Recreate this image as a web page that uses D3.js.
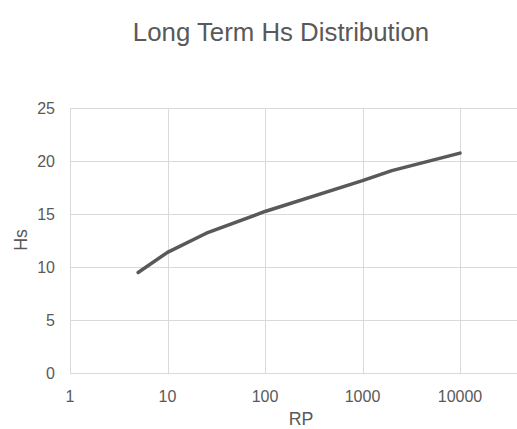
<!DOCTYPE html>
<html>
<head>
<meta charset="utf-8">
<script src="https://cdn.jsdelivr.net/npm/d3@7"></script>
<style>
  body { margin: 0; background: #fff; }
  text { font-family: "Liberation Sans", Arial, sans-serif; fill: #595959; }
</style>
</head>
<body>
<script>
// values
var rp = [5, 10, 25, 100, 1000, 2000, 10000];
var hs = [9.5, 11.4, 13.2, 15.25, 18.15, 19.1, 20.75];
var xTicks = [1, 10, 100, 1000, 10000, 100000];
var yTicks = [0, 5, 10, 15, 20, 25];

var width = 517, height = 429;
var plotLeft = 70, plotTop = 108, plotBottom = 373.3, plotRight = 557.5;

var svg = d3.select("body").append("svg")
    .attr("width", width)
    .attr("height", height);

var x = d3.scaleLog().domain([1, 100000]).range([plotLeft, plotRight]);
var y = d3.scaleLinear().domain([0, 25]).range([plotBottom, plotTop]);

// gridlines
svg.append("g")
    .selectAll("line")
    .data(yTicks)
    .enter().append("line")
    .attr("x1", plotLeft).attr("x2", plotRight)
    .attr("y1", function(d) { return Math.round(y(d)) + 0.5; })
    .attr("y2", function(d) { return Math.round(y(d)) + 0.5; })
    .attr("stroke", "#d9d9d9")
    .attr("stroke-width", 1);

svg.append("g")
    .selectAll("line")
    .data(xTicks)
    .enter().append("line")
    .attr("y1", plotTop).attr("y2", plotBottom)
    .attr("x1", function(d) { return Math.round(x(d)) + 0.5; })
    .attr("x2", function(d) { return Math.round(x(d)) + 0.5; })
    .attr("stroke", "#d9d9d9")
    .attr("stroke-width", 1);

// tick labels
svg.append("g")
    .selectAll("text")
    .data(yTicks)
    .enter().append("text")
    .attr("x", 55)
    .attr("y", function(d) { return y(d) + 5.5; })
    .attr("text-anchor", "end")
    .style("font-size", "16px")
    .text(function(d) { return d; });

svg.append("g")
    .selectAll("text")
    .data(xTicks.slice(0, 5))
    .enter().append("text")
    .attr("x", function(d) { return x(d); })
    .attr("y", 401.5)
    .attr("text-anchor", "middle")
    .style("font-size", "16px")
    .text(function(d) { return d; });

// axis titles
svg.append("text")
    .attr("x", 301)
    .attr("y", 424.5)
    .attr("text-anchor", "middle")
    .style("font-size", "17.8px")
    .text("RP");

svg.append("text")
    .attr("transform", "translate(26.5,240) rotate(-90)")
    .attr("text-anchor", "middle")
    .style("font-size", "17.8px")
    .text("Hs");

// title
svg.append("text")
    .attr("x", 281)
    .attr("y", 41)
    .attr("text-anchor", "middle")
    .style("font-size", "25.8px")
    .text("Long Term Hs Distribution");

// series
var pts = rp.map(function(d, i) { return [d, hs[i]]; });
var line = d3.line()
    .x(function(d) { return x(d[0]); })
    .y(function(d) { return y(d[1]); });

svg.append("path")
    .datum(pts)
    .attr("d", line)
    .attr("fill", "none")
    .attr("stroke", "#595959")
    .attr("stroke-width", 3.5)
    .attr("stroke-linejoin", "round")
    .attr("stroke-linecap", "round");
</script>
</body>
</html>
